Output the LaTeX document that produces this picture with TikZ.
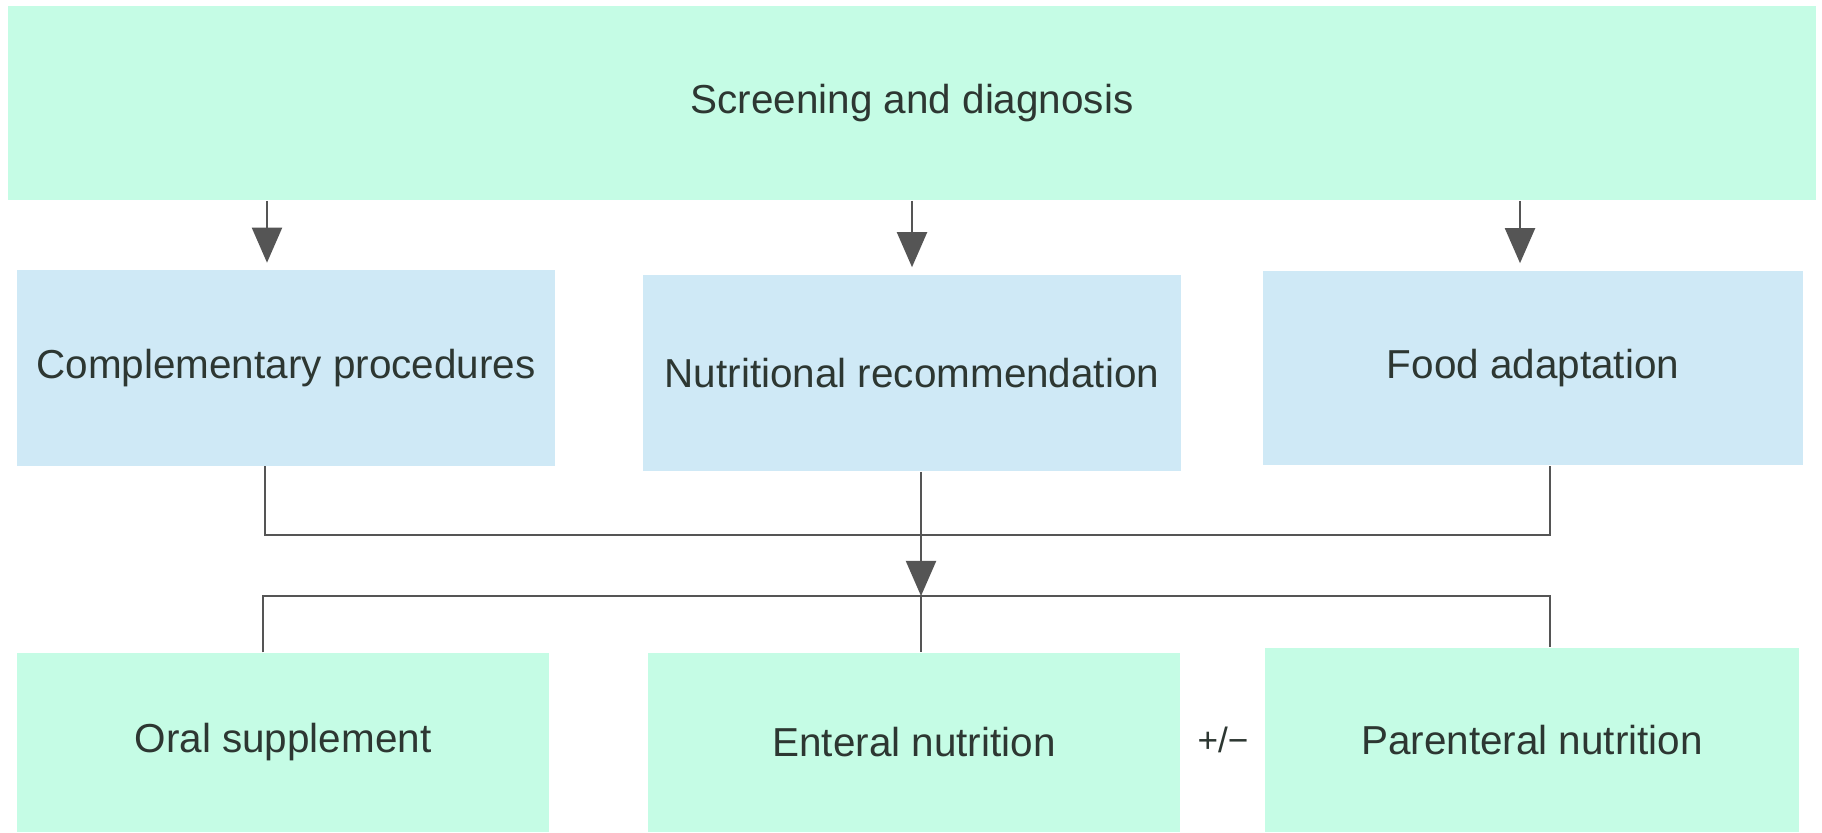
\documentclass[tikz,border=0pt]{standalone}
\usepackage{fontspec}
\setmainfont{Liberation Sans}
\usetikzlibrary{arrows.meta}
\definecolor{mint}{RGB}{197,252,229}
\definecolor{skyblue}{RGB}{207,233,246}
\definecolor{txtgray}{RGB}{45,55,50}
\definecolor{linegray}{RGB}{85,85,85}
\tikzset{
    greenbox/.style={fill=mint, inner sep=0pt, text=txtgray, font=\fontsize{11.5}{13}\selectfont},
    bluebox/.style={fill=skyblue, inner sep=0pt, text=txtgray, font=\fontsize{11.5}{13}\selectfont},
    bus/.style={draw=linegray, line width=0.8pt},
    arr/.style={bus, -{Triangle[length=10pt,width=8.5pt]}, shorten >=2pt}
}

\begin{document}
\begin{tikzpicture}[x=0.01cm, y=-0.01cm]
    \fill[white] (0,0) rectangle (1822,832);
    \useasboundingbox (0,0) rectangle (1822,832);

    % Draw nodes
    \node[greenbox, minimum width=18.06cm, minimum height=1.94cm] (scr) at (912,103) {Screening and diagnosis};
    \node[bluebox, minimum width=5.38cm, minimum height=1.95cm] (cp) at (286,368) {Complementary procedures};
    \node[bluebox, minimum width=5.38cm, minimum height=1.96cm] (nr) at (912,373) {Nutritional recommendation};
    \node[bluebox, minimum width=5.39cm, minimum height=1.94cm] (fa) at (1533,368) {Food adaptation};
    \node[greenbox, minimum width=5.32cm, minimum height=1.79cm] (os) at (283,742.5) {Oral supplement};
    \node[greenbox, minimum width=5.32cm, minimum height=1.79cm] (en) at (914,742.5) {Enteral nutrition};
    \node[greenbox, minimum width=5.34cm, minimum height=1.84cm] (pn) at (1532,740) {Parenteral nutrition};
    \node[text=txtgray, font=\fontsize{10}{12}\selectfont] (pm) at (1223,740) {+/\textminus};

    % Bus points
    \coordinate (upL) at (265,535);
    \coordinate (upM) at (921,535);
    \coordinate (upR) at (1550,535);
    \coordinate (loL) at (263,596);
    \coordinate (loM) at (921,596);
    \coordinate (loR) at (1550,596);

    % Draw connections
    \foreach \n/\x in {cp/267, nr/912, fa/1520}
        \draw[arr] (scr.south -| \x,0) -- (\n.north -| \x,0);
    \draw[bus] (cp.south -| upL) -- (upL) -- (upR) -- (fa.south -| upR);
    \draw[arr, shorten >=0pt] (nr.south -| upM) -- (loM);
    \draw[bus] (os.north -| loL) -- (loL) -- (loR) -- (pn.north -| loR);
    \draw[bus] (loM) -- (en.north -| loM);
\end{tikzpicture}
\end{document}
